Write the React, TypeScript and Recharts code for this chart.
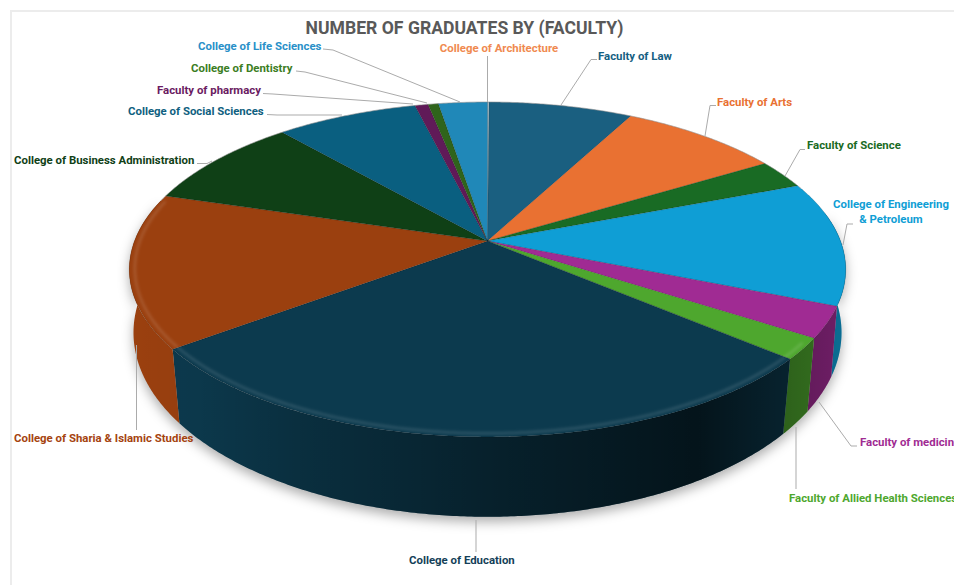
import { PieChart, Pie } from "recharts";

const faculties = [
	"College of Architecture",
	"Faculty of Law",
	"Faculty of Arts",
	"Faculty of Science",
	"College of Engineering & Petroleum",
	"Faculty of medicine",
	"Faculty of Allied Health Sciences",
	"College of Education",
	"College of Sharia & Islamic Studies",
	"College of Business Administration",
	"College of Social Sciences",
	"Faculty of pharmacy",
	"College of Dentistry",
	"College of Life Sciences",
];

// share of graduates
const graduates = [0.08, 7.65, 8.6, 2.8, 12, 3, 2.05, 28.6, 14.9, 8.9, 7.55, 0.7, 0.55, 2.6];

const sliceColors = [
	"#b9d3df", "#1a5f80", "#e97132", "#196b24", "#0f9ed5", "#a02b93", "#4ea72e",
	"#0c3a4e", "#9b400f", "#0f4016", "#0a5f80", "#601a58", "#2f641b", "#2088b8",
];

const labelColors = [
	"#f08a50", "#156082", "#e97132", "#196b24", "#0f9ed5", "#a02b93", "#4ea72e",
	"#143f58", "#a5430f", "#0f4016", "#0f5f80", "#6a1b62", "#3b7d23", "#2990c8",
];

const data = faculties.map((name, i) => ({ name, value: graduates[i], fill: sliceColors[i] }));

// label layout: text lines (x, y, anchor) and leader polyline
const labelLayout: { lines: [string, number, number, string][]; leader: string }[] = [
	{ lines: [["College of Architecture", 499, 48, "middle"]], leader: "487.5,56 487.5,102" },
	{ lines: [["Faculty of Law", 598, 56, "start"]], leader: "597,59.5 591,59.5 561,105" },
	{ lines: [["Faculty of Arts", 717, 102, "start"]], leader: "716,105.5 710,105.5 705,136" },
	{ lines: [["Faculty of Science", 807, 145, "start"]], leader: "805,149.5 800,149.5 785,176" },
	{
		lines: [
			["College of Engineering", 891, 204, "middle"],
			["& Petroleum", 891, 219, "middle"],
		],
		leader: "853,224 847,224 843,245",
	},
	{ lines: [["Faculty of medicine", 860, 442, "start"]], leader: "857,446 851,446 819,402" },
	{ lines: [["Faculty of Allied Health Sciences", 789, 498, "start"]], leader: "796,489 796,427" },
	{ lines: [["College of Education", 409, 560, "start"]], leader: "476,520 476,552" },
	{ lines: [["College of Sharia & Islamic Studies", 14, 438, "start"]], leader: "136.5,430 136.5,345" },
	{ lines: [["College of Business Administration", 14, 160, "start"]], leader: "197,163.5 207,163.5 212,161" },
	{ lines: [["College of Social Sciences", 128, 111, "start"]], leader: "267,114.5 277,115 342,115" },
	{ lines: [["Faculty of pharmacy", 157, 90, "start"]], leader: "263,93.5 273,94 413,104" },
	{ lines: [["College of Dentistry", 191, 68, "start"]], leader: "296,71 305,72 427,103" },
	{ lines: [["College of Life Sciences", 198, 46, "start"]], leader: "323,49 333,50 460,102" },
];

const FONT = "Roboto, sans-serif";
const APEX_X = 487.5;
const APEX_Y = 241;

const topRim = { dy: 0, sx: 353, sy: 162.6, k: 0.17 };
const bottomRim = { dy: 64, sx: 350, sy: 180, k: 0.15 };

type Rim = typeof topRim;

// clockwise degrees from 12 o'clock -> point on the tilted disc
const project = (cx: number, cy: number, deg: number, rim: Rim, r = 1) => {
	const a = (deg * Math.PI) / 180;
	const u = Math.sin(a) * r;
	const v = -Math.cos(a) * r;
	const w = 1 - rim.k * v;
	return [cx + (rim.sx * u) / w, cy + rim.dy + (rim.sy * v) / w];
};

const arcPoints = (cx: number, cy: number, from: number, to: number, rim: Rim, r = 1) => {
	const n = Math.max(2, Math.ceil(Math.abs(to - from) * 2));
	const pts: string[] = [];
	for (let i = 0; i <= n; i++) {
		const p = project(cx, cy, from + ((to - from) * i) / n, rim, r);
		pts.push(`${p[0].toFixed(2)} ${p[1].toFixed(2)}`);
	}
	return pts;
};

const backEdge = (cx: number, cy: number, from: number, to: number) =>
	to > from ? `M${arcPoints(cx, cy, from, to, topRim).join("L")}` : "";

const TopSlice = (props: any) => {
	const { cx, cy, startAngle, endAngle, fill } = props;
	const a0 = 90 - startAngle;
	const a1 = 90 - endAngle;
	const rim = arcPoints(cx, cy, a0, a1, topRim);
	const from = Math.max(a0, 125);
	const to = Math.min(a1, 285);
	// thin grey edge only along the far side of the disc
	const edge = backEdge(cx, cy, a0, Math.min(a1, 70)) + backEdge(cx, cy, Math.max(a0, 285), a1);
	return (
		<g>
			<path
				d={`M${cx} ${cy}L${rim.join("L")}Z`}
				fill={fill}
				stroke="rgba(0,0,0,0.25)"
				strokeWidth={0.6}
			/>
			{edge && <path d={edge} fill="none" stroke="rgba(170,170,170,0.7)" strokeWidth={0.7} />}
			{to > from && (
				<path
					d={`M${arcPoints(cx, cy, from, to, topRim, 0.985).join("L")}`}
					fill="none"
					stroke="rgba(255,255,255,0.14)"
					strokeWidth={2.5}
					filter="url(#bevelBlur)"
				/>
			)}
		</g>
	);
};

const WallSlice = (props: any) => {
	const { cx, cy, startAngle, endAngle, fill } = props;
	const a0 = Math.max(90 - startAngle, 80);
	const a1 = Math.min(90 - endAngle, 285);
	if (a1 <= a0) return <g />;
	const upper = arcPoints(cx, cy, a0, a1, topRim);
	const lower = arcPoints(cx, cy, a0, a1, bottomRim).reverse();
	const d = `M${upper.join("L")}L${lower.join("L")}Z`;
	return (
		<g>
			<path d={d} fill={fill} />
			<path d={d} fill="url(#wallShade)" />
		</g>
	);
};

const renderLabel = (props: any) => {
	const item = labelLayout[props.index];
	if (!item) return <g />;
	return (
		<g>
			<polyline points={item.leader} fill="none" stroke="#ababab" strokeWidth={1} />
			{item.lines.map(([text, x, y, anchor]) => (
				<text
					key={text}
					x={x}
					y={y}
					textAnchor={anchor as any}
					dominantBaseline="central"
					fontFamily={FONT}
					fontWeight={700}
					fontSize={11.4}
					fill={labelColors[props.index]}
				>
					{text}
				</text>
			))}
		</g>
	);
};

export default function App() {
	return (
		<div style={{ position: "fixed", left: 0, top: 0, width: 954, height: 585, overflow: "hidden", background: "#fff" }}>
			<div
				style={{
					position: "absolute",
					left: 10,
					top: 10,
					width: 960,
					height: 600,
					border: "2px solid #ececec",
					boxSizing: "border-box",
				}}
			/>
			<style>{`.wall-pie { filter: drop-shadow(0 5px 6px rgba(0,0,0,0.32)); }`}</style>
			<div style={{ position: "absolute", left: 0, top: 0 }}>
				<PieChart width={954} height={585} margin={{ top: 0, right: 0, bottom: 0, left: 0 }}>
					<defs>
						<linearGradient id="wallShade" gradientUnits="userSpaceOnUse" x1="128" y1="0" x2="848" y2="0">
							<stop offset="0" stopColor="#000" stopOpacity="0" />
							<stop offset="0.1" stopColor="#000" stopOpacity="0.04" />
							<stop offset="0.24" stopColor="#000" stopOpacity="0.2" />
							<stop offset="0.48" stopColor="#000" stopOpacity="0.42" />
							<stop offset="0.79" stopColor="#000" stopOpacity="0.66" />
							<stop offset="0.91" stopColor="#000" stopOpacity="0.42" />
							<stop offset="1" stopColor="#000" stopOpacity="0.3" />
						</linearGradient>
						<filter id="bevelBlur" x="-20%" y="-20%" width="140%" height="140%">
							<feGaussianBlur stdDeviation="1.5" />
						</filter>
					</defs>
					<text
						x={464.5}
						y={28}
						textAnchor="middle"
						dominantBaseline="central"
						fontFamily={FONT}
						fontWeight={700}
						fontSize={17.6}
						fill="#595959"
					>
						NUMBER OF GRADUATES BY (FACULTY)
					</text>
					<Pie
						className="wall-pie"
						data={data}
						dataKey="value"
						nameKey="name"
						cx={APEX_X}
						cy={APEX_Y}
						outerRadius={100}
						startAngle={90}
						endAngle={-270}
						stroke="none"
						shape={WallSlice}
						rootTabIndex={-1}
						isAnimationActive={false}
					/>
					<Pie
						data={data}
						dataKey="value"
						nameKey="name"
						cx={APEX_X}
						cy={APEX_Y}
						outerRadius={100}
						startAngle={90}
						endAngle={-270}
						stroke="none"
						shape={TopSlice}
						label={renderLabel}
						labelLine={false}
						rootTabIndex={-1}
						isAnimationActive={false}
					/>
				</PieChart>
			</div>
		</div>
	);
}
